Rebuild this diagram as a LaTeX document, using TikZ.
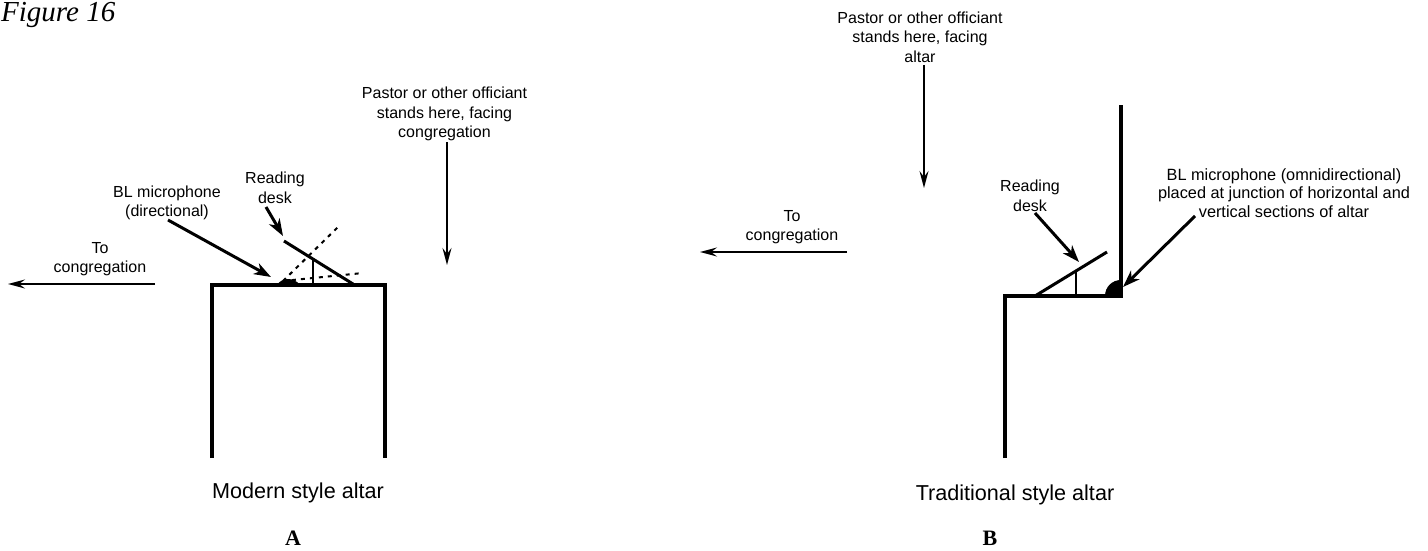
\documentclass[tikz,border=0pt]{standalone}
\usepackage{fontspec}
\setmainfont{Liberation Sans}
\newfontfamily\serifcap{Liberation Serif}
\usetikzlibrary{arrows.meta}
\tikzset{
 x=1pt,y=-1pt,
 lab/.style={font=\fontsize{16}{19.5}\selectfont,align=center,inner sep=0pt,anchor=center},
 captext/.style={font=\fontsize{21.6}{24}\selectfont,inner sep=0pt,anchor=center},
 letter/.style={font=\serifcap\bfseries\fontsize{22}{22}\selectfont,inner sep=0pt},
 altar/.style={line width=4pt,line cap=butt,line join=miter},
 desk/.style={line width=3pt},
 strut/.style={line width=1.5pt},
 guide/.style={line width=2pt,dash pattern=on 4pt off 5pt},
 thin arrow/.style={line width=1.7pt,-{Stealth[length=17pt,width=9pt,inset=6pt]}},
 bold arrow/.style={line width=3pt,-{Stealth[length=17pt,width=12pt,inset=5pt]}},
}
\begin{document}
\begin{tikzpicture}
\useasboundingbox (0,0) rectangle (1428,551);
\node[font=\serifcap\itshape\fontsize{29}{29}\selectfont,anchor=base west,inner sep=0pt] (fig) at (1,22) {Figure 16};
% Altar A
\draw[altar] (212,458) -- (212,285) -- (385,285) -- (385,458);
\fill (277,285) .. controls (282,277) and (294,277) .. (300,285) -- cycle;
\coordinate (deskAtop) at (284,241);
\coordinate (deskAbot) at (353,284);
\coordinate (strutAtop) at (313,259);
\coordinate (strutAbot) at (313,285);
\coordinate (g1) at (338,227);
\coordinate (g2) at (363,273);
\coordinate (g0) at (283,281);
\draw[desk] (deskAtop) -- (deskAbot);
\draw[strut] (strutAtop) -- (strutAbot);
\draw[guide] (g0) -- (g1);
\draw[guide] (g0) -- (g2);
\node[lab] (pastorA) at (444.5,114) {Pastor or other officiant\\stands here, facing\\congregation};
\node[lab] (deskA) at (275,188) {Reading\\desk};
\node[lab] (micAl) at (167,203) {BL microphone\\(directional)};
\node[lab] (toA) at (100,259) {To\\congregation};
\coordinate (arA) at (447,265);
\coordinate (arAs) at (447,142);
\draw[thin arrow] (arAs) -- (arA);
\coordinate (toAs) at (155,284);
\coordinate (toAe) at (8,284);
\draw[thin arrow] (toAs) -- (toAe);
\coordinate (micAs) at (168,220);
\coordinate (micAe) at (271,277);
\draw[bold arrow] (micAs) -- (micAe);
\coordinate (deskAs) at (266,207);
\coordinate (deskAe) at (283,236);
\draw[bold arrow] (deskAs) -- (deskAe);
\node[captext] (capA) at (298,493) {Modern style altar};
\node[letter] (lA) at (293,538) {A};
% Altar B
\draw[altar] (1005,458) -- (1005,296) -- (1121,296) -- (1121,105);
\fill (1105,296) .. controls (1105,287) and (1112,280) .. (1121,280) -- (1121,296) -- cycle;
\coordinate (deskBb) at (1035,296);
\coordinate (deskBt) at (1107,252);
\coordinate (strutBt) at (1076,270);
\coordinate (strutBb) at (1076,296);
\draw[desk] (deskBb) -- (deskBt);
\draw[strut] (strutBt) -- (strutBb);
\node[lab] (pastorB) at (920,37) {Pastor or other officiant\\stands here, facing\\altar};
\node[lab] (deskB) at (1030,196) {Reading\\desk};
\node[lab] (toB) at (792,227) {To\\congregation};
\node[lab,font=\fontsize{16.3}{18.5}\selectfont] (micBl) at (1284,193) {BL microphone (omnidirectional)\\placed at junction of horizontal and\\vertical sections of altar};
\coordinate (arBs) at (924,65);
\coordinate (arBe) at (924,188);
\draw[thin arrow] (arBs) -- (arBe);
\coordinate (toBs) at (847,252);
\coordinate (toBe) at (700,252);
\draw[thin arrow] (toBs) -- (toBe);
\coordinate (deskBs) at (1035,213);
\coordinate (deskBe) at (1079,262);
\draw[bold arrow] (deskBs) -- (deskBe);
\coordinate (micBs) at (1195,216);
\coordinate (micBe) at (1123,287);
\draw[bold arrow] (micBs) -- (micBe);
\node[captext] (capB) at (1015,495) {Traditional style altar};
\node[letter] (lB) at (990,538) {B};
\end{tikzpicture}
\end{document}
